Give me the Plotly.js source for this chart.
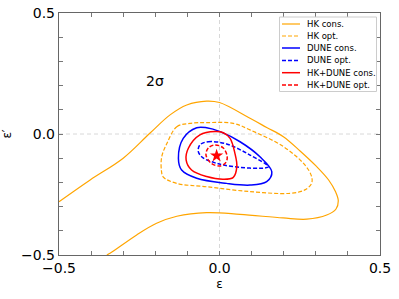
<!DOCTYPE html>
<html><head><meta charset="utf-8">
<script src="https://cdn.plot.ly/plotly-3.0.1.min.js"></script>
<style>html,body{margin:0;padding:0;background:#fff}#chart{width:399px;height:299px}</style>
</head><body><div id="chart"></div>
<script>
// HK conservative (open contour, leaves through the left and bottom edges)
const hkConsX = [-0.5, -0.403, -0.3, -0.217, -0.154, -0.102, -0.04, 0.0, 0.095, 0.147, 0.199, 0.251, 0.303, 0.34, 0.362, 0.37, 0.363, 0.334, 0.272, 0.198, 0.064, -0.04, -0.133, -0.196, -0.258, -0.341, -0.351];
const hkConsY = [-0.28, -0.19, -0.1, 0.003, 0.079, 0.12, 0.136, 0.13, 0.065, 0.027, -0.011, -0.07, -0.135, -0.19, -0.24, -0.275, -0.31, -0.335, -0.352, -0.347, -0.332, -0.325, -0.34, -0.369, -0.417, -0.493, -0.5];
// HK optimistic
const hkOptX = [-0.164, -0.133, -0.092, -0.04, 0.043, 0.095, 0.199, 0.266, 0.287, 0.287, 0.266, 0.22, 0.095, -0.04, -0.133, -0.175, -0.181, -0.18, -0.164];
const hkOptY = [-0.039, 0.03, 0.044, 0.047, 0.044, 0.017, -0.052, -0.128, -0.176, -0.204, -0.231, -0.245, -0.238, -0.218, -0.204, -0.178, -0.15, -0.094, -0.039];
// DUNE conservative
const duneConsX = [-0.071, -0.113, -0.128, -0.118, -0.071, 0.022, 0.095, 0.147, 0.163, 0.126, 0.064, 0.002, -0.04, -0.071];
const duneConsY = [0.026, -0.018, -0.1, -0.149, -0.183, -0.204, -0.211, -0.197, -0.156, -0.094, -0.032, 0.01, 0.026, 0.026];
// DUNE optimistic
const duneOptX = [-0.061, -0.035, 0.022, 0.095, 0.152, 0.136, 0.064, 0.012, -0.009, -0.05, -0.066, -0.061];
const duneOptY = [-0.045, -0.032, -0.041, -0.087, -0.135, -0.141, -0.138, -0.128, -0.121, -0.1, -0.073, -0.045];
// HK+DUNE conservative
const combConsX = [-0.014, -0.061, -0.097, -0.104, -0.087, -0.04, 0.012, 0.043, 0.054, 0.048, 0.033, 0.012, -0.014];
const combConsY = [0.01, -0.004, -0.059, -0.107, -0.149, -0.176, -0.187, -0.179, -0.135, -0.08, -0.018, 0.005, 0.01];
// HK+DUNE optimistic
const combOptX = [-0.014, -0.035, -0.042, -0.025, 0.002, 0.02, 0.024, 0.012, -0.014];
const combOptY = [-0.045, -0.058, -0.087, -0.122, -0.132, -0.117, -0.094, -0.058, -0.045];
// best fit point
const starX = [-0.009];
const starY = [-0.09];

const seriesNames = ["HK cons.", "HK opt.", "DUNE cons.", "DUNE opt.", "HK+DUNE cons.", "HK+DUNE opt."];
const seriesColors = ["#FFA500", "#FFA500", "#0000FF", "#0000FF", "#FF0000", "#FF0000"];
const seriesDash = ["solid", "4px,2px", "solid", "4px,2px", "solid", "4px,2px"];
const seriesWidth = [1.2, 1.2, 1.5, 1.5, 1.5, 1.5];
const seriesX = [hkConsX, hkOptX, duneConsX, duneOptX, combConsX, combOptX];
const seriesY = [hkConsY, hkOptY, duneConsY, duneOptY, combConsY, combOptY];

const tickVals = [-0.5, -0.4, -0.3, -0.2, -0.1, 0.0, 0.1, 0.2, 0.3, 0.4, 0.5];
const tickText = ["\u22120.5", "", "", "", "", "0.0", "", "", "", "", "0.5"];

const traces = seriesNames.map((n, i) => ({
  x: seriesX[i], y: seriesY[i], name: n, type: "scatter", mode: "lines",
  line: {color: seriesColors[i], width: seriesWidth[i], dash: seriesDash[i], shape: "spline", smoothing: 1},
  showlegend: false, hoverinfo: "skip"
}));
traces.push({x: starX, y: starY, type: "scatter", mode: "markers",
  marker: {symbol: "star", color: "#FF0000", size: 10, line: {width: 0}}, showlegend: false});

const fontFam = "DejaVu Sans, sans-serif";
const shapes = [
  {type: "line", xref: "x", yref: "paper", x0: 0, x1: 0, y0: 0, y1: 1, line: {color: "#d8d8d8", width: 1, dash: "4px,3px"}, layer: "below"},
  {type: "line", xref: "paper", yref: "y", x0: 0, x1: 1, y0: 0, y1: 0, line: {color: "#d8d8d8", width: 1, dash: "4px,3px"}, layer: "below"},
  // legend box
  {type: "rect", xref: "paper", yref: "paper", x0: (279.5-59)/321, x1: (376.5-59)/321, y0: (255-91.5)/242, y1: (255-17)/242,
   line: {color: "#cccccc", width: 1}, fillcolor: "rgba(255,255,255,0.9)"}
];
const annotations = [
  {x: -0.2, y: 0.22, xref: "x", yref: "y", text: "2\u03c3", showarrow: false, font: {family: fontFam, size: 14, color: "#000"}}
];
const rowY = [24, 36, 48, 60.5, 72.7, 85];
seriesNames.forEach((n, i) => {
  const yp = (255 - rowY[i]) / 242;
  shapes.push({type: "line", xref: "paper", yref: "paper", x0: (282-59)/321, x1: (300-59)/321, y0: yp, y1: yp,
    line: {color: seriesColors[i], width: seriesWidth[i], dash: seriesDash[i]}});
  annotations.push({x: (305-59)/321, y: yp, xref: "paper", yref: "paper", xanchor: "left", yanchor: "middle",
    text: n, showarrow: false, font: {family: fontFam, size: 8.5, color: "#000"}});
});

const axisCommon = {
  range: [-0.5, 0.5], tickmode: "array", tickvals: tickVals, ticktext: tickText,
  ticks: "inside", ticklen: 4, tickwidth: 1, tickcolor: "#777", mirror: "ticks",
  showline: true, linecolor: "#666", linewidth: 1.2, showgrid: false, zeroline: false,
  tickfont: {family: fontFam, size: 14, color: "#000"}
};
const layout = {
  width: 399, height: 299,
  margin: {l: 59, r: 19, t: 13, b: 44},
  paper_bgcolor: "#fff", plot_bgcolor: "#fff",
  showlegend: false,
  xaxis: Object.assign({}, axisCommon, {title: {text: "\u03b5", font: {family: fontFam, size: 12, color: "#000"}, standoff: 4}}),
  yaxis: Object.assign({}, axisCommon, {title: {text: "\u03b5\u2032", font: {family: fontFam, size: 12, color: "#000"}, standoff: 8}}),
  shapes: shapes, annotations: annotations
};
Plotly.newPlot("chart", traces, layout, {staticPlot: true, displayModeBar: false});
</script></body></html>
